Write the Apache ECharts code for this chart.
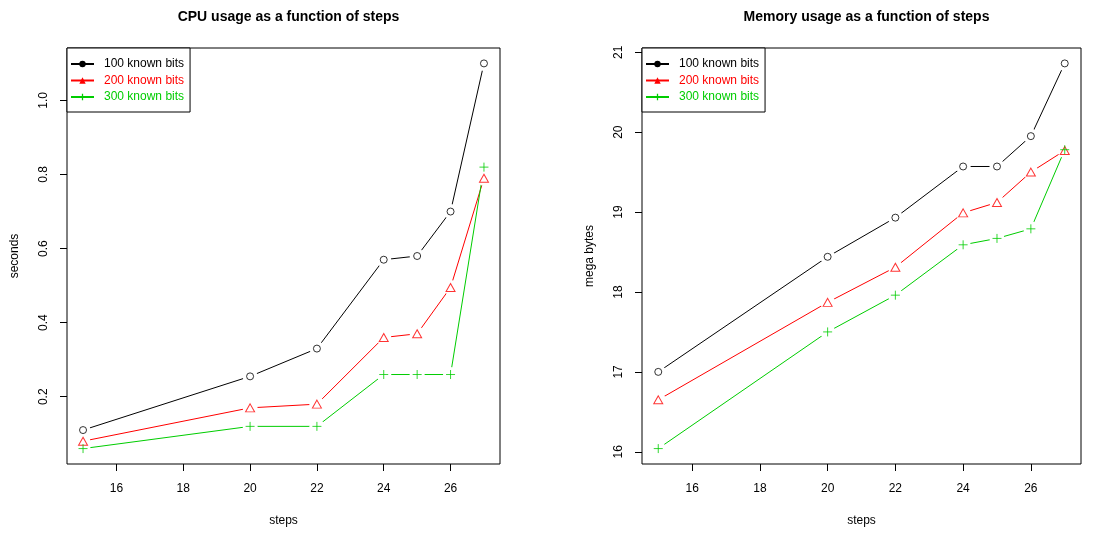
<!DOCTYPE html>
<html>
<head>
<meta charset="utf-8">
<script src="https://cdn.jsdelivr.net/npm/echarts@6/dist/echarts.min.js"></script>
<style>
  html, body { margin: 0; padding: 0; background: #fff; }
  #chart { width: 1112px; height: 533px; }
</style>
</head>
<body>
<div id="chart"></div>
<script>
// ---- data ----
var steps = [15, 20, 22, 24, 25, 26, 27];

var cpu100 = [0.11, 0.255, 0.33, 0.57, 0.58, 0.70, 1.10];
var cpu200 = [0.08, 0.17, 0.18, 0.36, 0.37, 0.495, 0.79];
var cpu300 = [0.06, 0.12, 0.12, 0.26, 0.26, 0.26, 0.82];

var mem100 = [17.0, 18.44, 18.93, 19.57, 19.57, 19.95, 20.86];
var mem200 = [16.65, 17.87, 18.31, 18.99, 19.12, 19.50, 19.77];
var mem300 = [16.04, 17.50, 17.96, 18.59, 18.67, 18.79, 19.78];

var seriesNames = ['100 known bits', '200 known bits', '300 known bits'];
var xTicks = [16, 18, 20, 22, 24, 26];
var cpuTicks = [0.2, 0.4, 0.6, 0.8, 1.0];
var memTicks = [16, 17, 18, 19, 20, 21];

// ---- look ----
var colors = ['#000000', '#ff0000', '#00cd00'];
// open marks like R's pch 1, 2, 3
var markers = [
  'path://M0,4A4,4,0,1,1,8,4A4,4,0,1,1,0,4Z',
  'path://M4,0L8,7L0,7Z',
  'path://M4,0V8M0,4H8'
];
var markerSizes = [7, [9, 8], 9];
// filled marks for the legend
var legendIcons = ['circle', 'triangle', 'path://M3.2,0H4.8V3.2H8V4.8H4.8V8H3.2V4.8H0V3.2H3.2Z'];
var FONT = 'Liberation Sans, Arial, Helvetica, sans-serif';

// R pads axis range by 4% on each side
function padRange(arrs) {
  var all = [].concat.apply([], arrs);
  var lo = Math.min.apply(null, all), hi = Math.max.apply(null, all);
  var d = (hi - lo) * 0.04;
  return [lo - d, hi + d];
}

function pairs(ys) {
  return steps.map(function (x, i) { return [x, ys[i]]; });
}

var xr = padRange([steps]);
var cpuR = padRange([cpu100, cpu200, cpu300]);
var memR = padRange([mem100, mem200, mem300]);

function xAxisFor(idx) {
  return {
    type: 'value', gridIndex: idx, min: xr[0], max: xr[1],
    name: 'steps', nameLocation: 'middle', nameGap: 51,
    nameTextStyle: { color: '#000', fontSize: 12, fontFamily: FONT },
    axisLine: { show: false },
    axisTick: { show: true, length: 7, lineStyle: { color: '#000' }, customValues: xTicks },
    axisLabel: { color: '#000', fontSize: 12, fontFamily: FONT, margin: 19, customValues: xTicks },
    splitLine: { show: false }
  };
}

function yAxisFor(idx, range, ticks, title) {
  return {
    type: 'value', gridIndex: idx, min: range[0], max: range[1],
    name: title, nameLocation: 'middle', nameGap: 46, nameRotate: 90,
    nameTextStyle: { color: '#000', fontSize: 12, fontFamily: FONT },
    axisLine: { show: false },
    axisTick: { show: true, length: 7, lineStyle: { color: '#000' }, customValues: ticks },
    axisLabel: { color: '#000', fontSize: 12, fontFamily: FONT, margin: 17, rotate: 90,
      customValues: ticks,
      formatter: function (v) { return ticks[0] < 1 ? v.toFixed(1) : String(Math.round(v)); } },
    splitLine: { show: false }
  };
}

var series = [];
function addPanel(idx, datasets) {
  datasets.forEach(function (ys, k) {
    // connecting line
    series.push({
      name: seriesNames[k], type: 'line', xAxisIndex: idx, yAxisIndex: idx,
      data: pairs(ys), showSymbol: false, symbol: legendIcons[k], symbolSize: 7, z: 1,
      lineStyle: { color: colors[k], width: 1 },
      itemStyle: { color: colors[k] },
      animation: false, silent: true
    });
  });
  datasets.forEach(function (ys, k) {
    // white gap around each point (R type = "b")
    series.push({
      name: 'gap' + idx + k, type: 'scatter', xAxisIndex: idx, yAxisIndex: idx,
      data: pairs(ys), symbol: 'circle', symbolSize: 15, z: 5,
      itemStyle: { color: '#ffffff', opacity: 1 }, animation: false, silent: true
    });
  });
  datasets.forEach(function (ys, k) {
    series.push({
      name: 'pt' + idx + k, type: 'scatter', xAxisIndex: idx, yAxisIndex: idx,
      data: pairs(ys), symbol: markers[k], symbolSize: markerSizes[k], z: 10,
      itemStyle: { color: 'none', borderColor: colors[k], borderWidth: 1 },
      animation: false, silent: true
    });
  });
}
addPanel(0, [cpu100, cpu200, cpu300]);
addPanel(1, [mem100, mem200, mem300]);

function legendFor(idx, left) {
  return {
    orient: 'vertical', left: left, top: 48, z: 20,
    data: seriesNames.map(function (n, k) {
      return { name: n, textStyle: { color: colors[k] } };
    }),
    itemWidth: 23, itemHeight: 8, itemGap: 2.5,
    padding: [9, 6, 8, 3],
    borderColor: '#000', borderWidth: 1, backgroundColor: '#fff',
    lineStyle: { width: 2 },
    textStyle: { fontSize: 12, fontFamily: FONT, lineHeight: 14, padding: [0, 0, 0, 5] },
    selectedMode: false
  };
}

var chart = echarts.init(document.getElementById('chart'), null, { renderer: 'canvas' });
chart.setOption({
  backgroundColor: '#fff',
  animation: false,
  title: [
    { text: 'CPU usage as a function of steps', left: 283.5, top: 5, textAlign: 'center',
      textStyle: { fontSize: 14, fontWeight: 'bold', color: '#000', fontFamily: FONT } },
    { text: 'Memory usage as a function of steps', left: 861.5, top: 5, textAlign: 'center',
      textStyle: { fontSize: 14, fontWeight: 'bold', color: '#000', fontFamily: FONT } }
  ],
  legend: [legendFor(0, 67), legendFor(1, 642)],
  grid: [
    { left: 67, top: 48, width: 433, height: 416, show: true, borderColor: '#000', borderWidth: 1, backgroundColor: 'transparent' },
    { left: 642, top: 48, width: 439, height: 416, show: true, borderColor: '#000', borderWidth: 1, backgroundColor: 'transparent' }
  ],
  xAxis: [xAxisFor(0), xAxisFor(1)],
  yAxis: [yAxisFor(0, cpuR, cpuTicks, 'seconds'), yAxisFor(1, memR, memTicks, 'mega bytes')],
  series: series
});
</script>
</body>
</html>
